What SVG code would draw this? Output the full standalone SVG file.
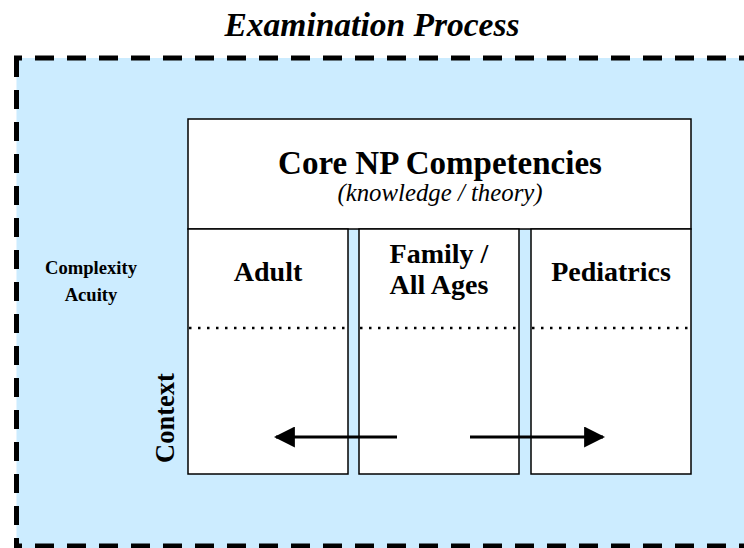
<svg xmlns="http://www.w3.org/2000/svg" width="744" height="548" viewBox="0 0 744 548">
<style>
.t{font-family:"Liberation Serif","Times New Roman",serif;fill:#000}
.b{font-weight:bold}
.box{fill:#fff;stroke:#000;stroke-width:1.5}
.dash{fill:none;stroke:#000;stroke-width:5;stroke-dasharray:19 13}
.dot{fill:none;stroke:#000;stroke-width:2.5;stroke-dasharray:2.5 6.5}
.arr{fill:none;stroke:#000;stroke-width:3}
</style>
<defs>
<marker id="ah" viewBox="0 0 10 10" refX="9" refY="5" markerWidth="7" markerHeight="7" orient="auto" markerUnits="strokeWidth">
<path d="M0,0 L10,5 L0,10 z" fill="#000"/>
</marker>
</defs>
<g id="background">
<rect x="16.5" y="58" width="740" height="490" fill="#CCECFF"/>
<path class="dash" d="M14,58 H744" stroke-dashoffset="11"/>
<path class="dash" d="M16.5,58 V548"/>
<path class="dash" d="M14,546 H744" stroke-dashoffset="11"/>
</g>
<text class="t b" x="372" y="36" font-size="33.5" font-style="italic" text-anchor="middle">Examination Process</text>
<g id="core">
<rect class="box" x="188" y="119" width="503" height="110"/>
<text class="t b" x="440" y="174" font-size="33" text-anchor="middle">Core NP Competencies</text>
<text class="t" x="440" y="201" font-size="24.8" font-style="italic" text-anchor="middle">(knowledge / theory)</text>
</g>
<g id="adult">
<rect class="box" x="188" y="229" width="160" height="245"/>
<text class="t b" x="268" y="281" font-size="28" text-anchor="middle">Adult</text>
<path class="dot" d="M189,328 H347"/>
</g>
<g id="family">
<rect class="box" x="359" y="229" width="160" height="245"/>
<text class="t b" x="439" y="263" font-size="28" text-anchor="middle">Family /</text>
<text class="t b" x="439" y="294" font-size="28" text-anchor="middle">All Ages</text>
<path class="dot" d="M360,328 H518"/>
</g>
<g id="pediatrics">
<rect class="box" x="531" y="229" width="160" height="245"/>
<text class="t b" x="611" y="281" font-size="28" text-anchor="middle">Pediatrics</text>
<path class="dot" d="M532,328 H690"/>
</g>
<g id="labels">
<text class="t b" x="91" y="274" font-size="18.6" text-anchor="middle">Complexity</text>
<text class="t b" x="91" y="301" font-size="18.6" text-anchor="middle">Acuity</text>
<text class="t b" x="0" y="0" font-size="26.5" text-anchor="middle" transform="translate(174,418) rotate(-90)">Context</text>
</g>
<g id="connectors">
<path class="arr" d="M397,437 H276" marker-end="url(#ah)"/>
<path class="arr" d="M470,437 H603" marker-end="url(#ah)"/>
</g>
</svg>
